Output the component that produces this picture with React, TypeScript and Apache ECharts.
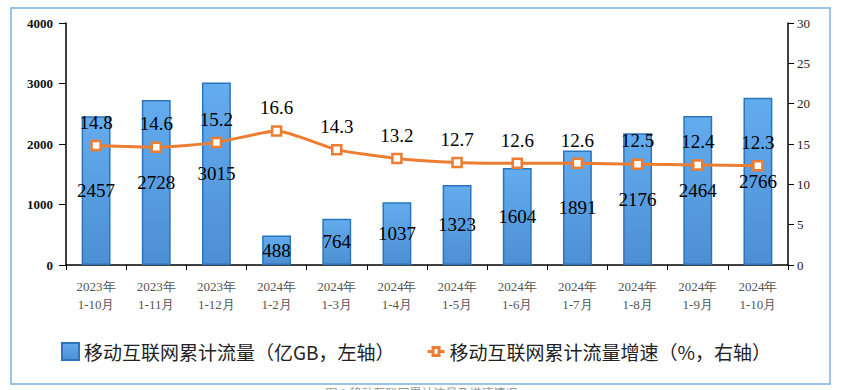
import React, { useEffect, useRef } from "react";
import * as echarts from "echarts";

const categories = [
  "2023年\n1-10月", "2023年\n1-11月", "2023年\n1-12月", "2024年\n1-2月",
  "2024年\n1-3月", "2024年\n1-4月", "2024年\n1-5月", "2024年\n1-6月",
  "2024年\n1-7月", "2024年\n1-8月", "2024年\n1-9月", "2024年\n1-10月",
];
const trafficValues = [2457, 2728, 3015, 488, 764, 1037, 1323, 1604, 1891, 2176, 2464, 2766];
const growthValues = [14.8, 14.6, 15.2, 16.6, 14.3, 13.2, 12.7, 12.6, 12.6, 12.5, 12.4, 12.3];
const barName = "移动互联网累计流量（亿GB，左轴）";
const lineName = "移动互联网累计流量增速（%，右轴）";
const caption = "图 1 移动互联网累计流量及增速情况";

const serif = "Liberation Serif";
const cjk = "Noto Sans CJK SC";

const lineIcon =
  "path://M0,7L5,7L5,10L0,10Z M4,3L13,3L13,14L4,14Z M7,6L7,11L10,11L10,6Z M12,7L17,7L17,10L12,10Z";

export default function App() {
  const ref = useRef<HTMLDivElement>(null);
  useEffect(() => {
    if (!ref.current) return;
    const chart = echarts.init(ref.current, null, { renderer: "svg" });
    chart.setOption({
      animation: false,
      backgroundColor: "#ffffff",
      grid: { left: 66, right: 55, top: 23, bottom: 125 },
      graphic: [
        {
          type: "rect",
          shape: { x: 11, y: 8, width: 819, height: 376 },
          style: { fill: "none", stroke: "#9DC3E6", lineWidth: 2 },
          silent: true,
        },
        {
          type: "text",
          left: "center",
          top: 386,
          style: { text: caption, font: `12px ${cjk}`, fill: "#999999" },
        },
      ],
      legend: {
        left: 56,
        top: 337,
        itemWidth: 17,
        itemHeight: 17,
        itemGap: 33,
        textStyle: { fontFamily: cjk, fontSize: 19, color: "#222222" },
        data: [
          { name: barName, icon: "rect" },
          { name: lineName, icon: lineIcon, itemStyle: { color: "#ED7D31", borderWidth: 0 } },
        ],
      },
      xAxis: {
        type: "category",
        data: categories,
        axisLine: { lineStyle: { color: "#000000", width: 1.5 } },
        axisTick: { show: true, length: 5, inside: false, lineStyle: { color: "#000000" } },
        axisLabel: {
          fontFamily: serif,
          fontSize: 13,
          color: "#555555",
          lineHeight: 18,
          margin: 12,
        },
      },
      yAxis: [
        {
          type: "value",
          min: 0,
          max: 4000,
          interval: 1000,
          splitLine: { show: false },
          axisLine: { show: true, lineStyle: { color: "#000000", width: 1.5 } },
          axisTick: { show: true, length: 7, lineStyle: { color: "#000000" } },
          axisLabel: {
            fontFamily: serif,
            fontSize: 13,
            fontWeight: "bold",
            color: "#111111",
            margin: 13,
            formatter: (v: number) => String(v),
          },
        },
        {
          type: "value",
          min: 0,
          max: 30,
          interval: 5,
          splitLine: { show: false },
          axisLine: { show: true, lineStyle: { color: "#000000", width: 1.5 } },
          axisTick: { show: true, length: 6, lineStyle: { color: "#000000" } },
          axisLabel: { fontFamily: serif, fontSize: 13, color: "#222222", margin: 9 },
        },
      ],
      series: [
        {
          name: barName,
          type: "bar",
          yAxisIndex: 0,
          data: trafficValues,
          barWidth: "48%",
          itemStyle: {
            color: new echarts.graphic.LinearGradient(0, 0, 0, 1, [
              { offset: 0, color: "#63ACEE" },
              { offset: 1, color: "#4D8FD3" },
            ]),
            borderColor: "#2B75BD",
            borderWidth: 1.5,
          },
          label: {
            show: true,
            position: "inside",
            fontFamily: serif,
            fontSize: 19,
            color: "#000000",
          },
          z: 2,
        },
        {
          name: lineName,
          type: "line",
          yAxisIndex: 1,
          data: growthValues,
          smooth: 0.2,
          symbol: "rect",
          symbolSize: 9,
          lineStyle: { color: "#ED7D31", width: 3 },
          itemStyle: { color: "#ffffff", borderColor: "#ED7D31", borderWidth: 2.5 },
          label: {
            show: true,
            position: "top",
            distance: 8,
            fontFamily: serif,
            fontSize: 19,
            color: "#000000",
          },
          z: 3,
        },
      ],
    });
    return () => chart.dispose();
  }, []);
  return (
    <div
      ref={ref}
      style={{ position: "fixed", left: 0, top: 0, width: 843, height: 390 }}
    />
  );
}
